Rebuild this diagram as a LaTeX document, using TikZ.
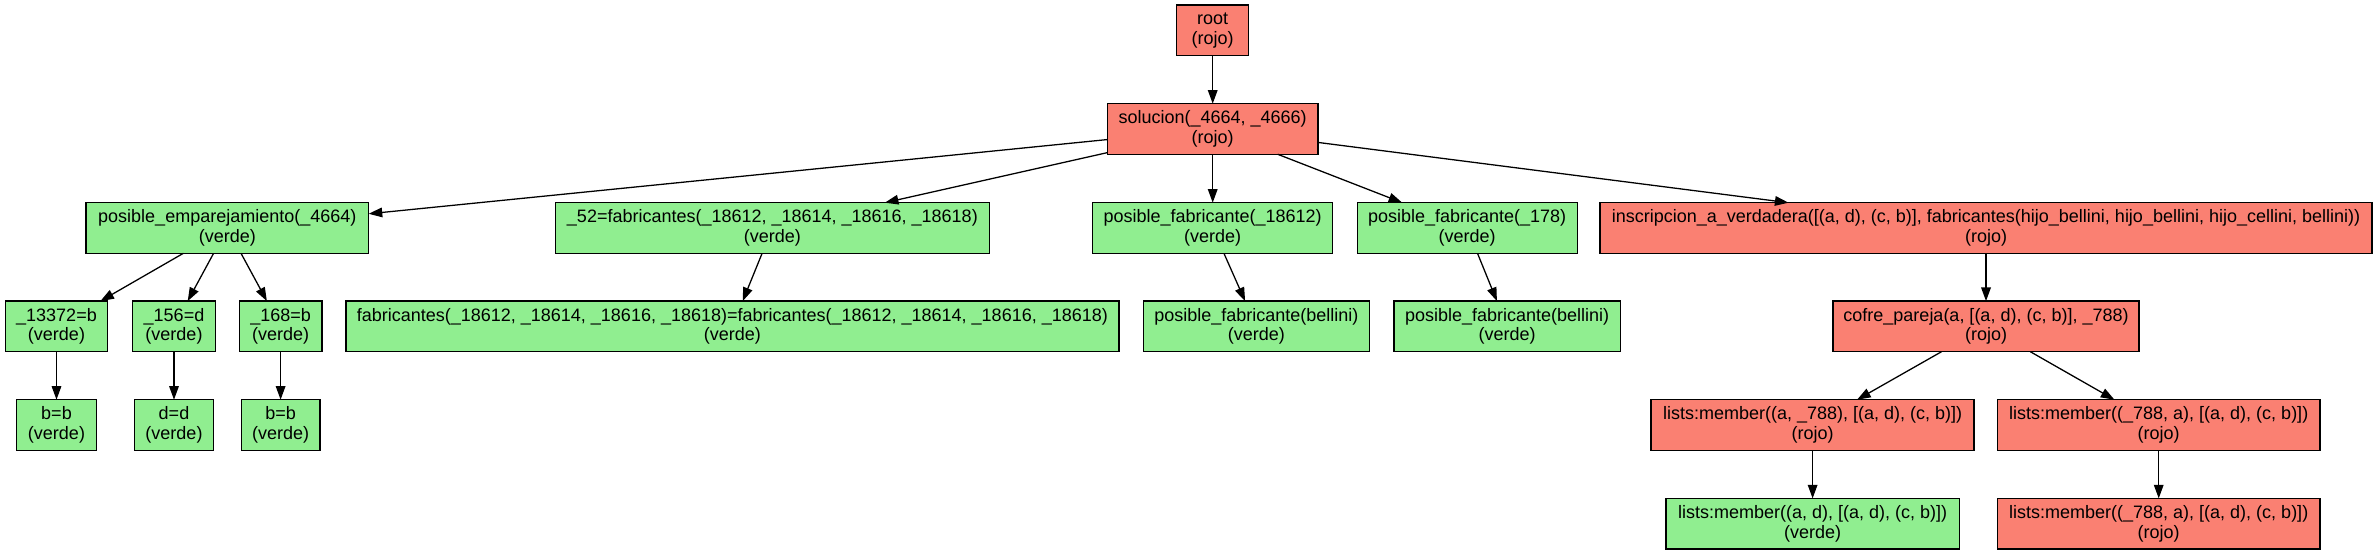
\documentclass[tikz,border=0pt]{standalone}
\usepackage{fontspec}
\setmainfont{Liberation Sans}
\usetikzlibrary{arrows.meta}
\definecolor{rojo}{HTML}{FA8072}
\definecolor{verde}{HTML}{90EE90}
\begin{document}
\begin{tikzpicture}[x=0.5pt,y=-0.5pt,
  box/.style={draw=black, line width=0.64pt, inner sep=0pt, outer sep=0pt,
    minimum height=25.3pt, minimum width=#1*0.5pt, align=center,
    font=\fontsize{9}{9.67}\selectfont},
  rbox/.style={box=#1, fill=rojo},
  gbox/.style={box=#1, fill=verde},
  arr/.style={line width=0.64pt, -{Triangle[length=6.8pt,width=4.8pt]}}]
\useasboundingbox (0,0) rectangle (2377,555);
% row 1
\node[rbox=72] (root) at (1212.7,30.4) {root\\(rojo)};
% row 2
\node[rbox=210.7] (sol) at (1212.7,129) {solucion(\_4664, \_4666)\\(rojo)};
% row 3
\node[gbox=282.7] (pe) at (227.3,228) {posible\_emparejamiento(\_4664)\\(verde)};
\node[gbox=433.8] (f52) at (772.4,228) {\_52=fabricantes(\_18612, \_18614, \_18616, \_18618)\\(verde)};
\node[gbox=240] (pf1) at (1212.7,228) {posible\_fabricante(\_18612)\\(verde)};
\node[gbox=220] (pf2) at (1467.2,228) {posible\_fabricante(\_178)\\(verde)};
\node[rbox=772] (insc) at (1986,228) {inscripcion\_a\_verdadera([(a, d), (c, b)], fabricantes(hijo\_bellini, hijo\_bellini, hijo\_cellini, bellini))\\(rojo)};
% row 4
\node[gbox=102.4] (u1) at (56.5,326.4) {\_13372=b\\(verde)};
\node[gbox=82.6] (u2) at (174,326.4) {\_156=d\\(verde)};
\node[gbox=82.7] (u3) at (280.6,326.4) {\_168=b\\(verde)};
\node[gbox=773] (feq) at (732.4,326.4) {fabricantes(\_18612, \_18614, \_18616, \_18618)=fabricantes(\_18612, \_18614, \_18616, \_18618)\\(verde)};
\node[gbox=226] (pb1) at (1256.3,326.4) {posible\_fabricante(bellini)\\(verde)};
\node[gbox=226.4] (pb2) at (1507.2,326.4) {posible\_fabricante(bellini)\\(verde)};
\node[rbox=306] (cofre) at (1986,326.4) {cofre\_pareja(a, [(a, d), (c, b)], \_788)\\(rojo)};
% row 5
\node[gbox=79.6] (e1) at (56.5,425) {b=b\\(verde)};
\node[gbox=78.8] (e2) at (174,425) {d=d\\(verde)};
\node[gbox=78.8] (e3) at (280.6,425) {b=b\\(verde)};
\node[rbox=323] (lm1) at (1812.6,425) {lists:member((a, \_788), [(a, d), (c, b)])\\(rojo)};
\node[rbox=322.5] (lm2) at (2158.7,425) {lists:member((\_788, a), [(a, d), (c, b)])\\(rojo)};
% row 6
\node[gbox=293.3] (lmv) at (1812.6,523.7) {lists:member((a, d), [(a, d), (c, b)])\\(verde)};
\node[rbox=322.5] (lmr) at (2158.7,523.7) {lists:member((\_788, a), [(a, d), (c, b)])\\(rojo)};
% edges
\draw[arr] (root) -- (sol);
\draw[arr] (sol) -- (pe);
\draw[arr] (sol) -- (f52);
\draw[arr] (sol) -- (pf1);
\draw[arr] (sol) -- (pf2);
\draw[arr] (sol) -- (insc);
\draw[arr] (pe) -- (u1);
\draw[arr] (pe) -- (u2);
\draw[arr] (pe) -- (u3);
\draw[arr] (f52) -- (feq);
\draw[arr] (pf1) -- (pb1);
\draw[arr] (pf2) -- (pb2);
\draw[arr] (insc) -- (cofre);
\draw[arr] (u1) -- (e1);
\draw[arr] (u2) -- (e2);
\draw[arr] (u3) -- (e3);
\draw[arr] (cofre) -- (lm1);
\draw[arr] (cofre) -- (lm2);
\draw[arr] (lm1) -- (lmv);
\draw[arr] (lm2) -- (lmr);
\end{tikzpicture}
\end{document}
